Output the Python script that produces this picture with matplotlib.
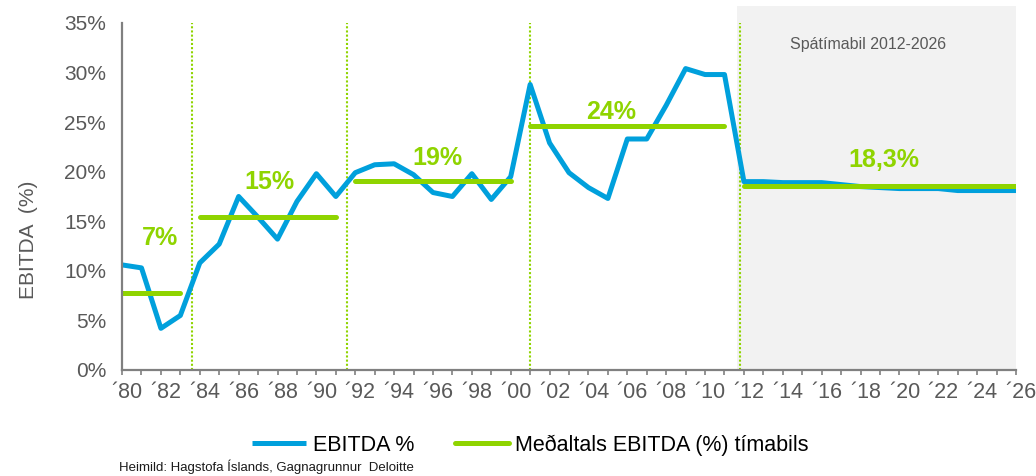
import matplotlib
matplotlib.use("Agg")
import matplotlib.pyplot as plt
from matplotlib import font_manager
from matplotlib.patches import Rectangle
import matplotlib.transforms as mtransforms

# ---------------- data ----------------
years = list(range(1980, 2027))
ebitda = [10.6, 10.3, 4.2, 5.5, 10.8, 12.7, 17.5, 15.4, 13.2, 17.0,
          19.8, 17.5, 19.9, 20.7, 20.8, 19.7, 17.9, 17.5, 19.8, 17.2,
          19.5, 28.8, 22.9, 19.9, 18.4, 17.3, 23.3, 23.3, 26.7, 30.4,
          29.8, 29.8, 19.0, 19.0, 18.9, 18.9, 18.9, 18.7, 18.5, 18.4,
          18.3, 18.3, 18.3, 18.1, 18.1, 18.1, 18.1]
period_start = [1980, 1984, 1992, 2001, 2012]
period_end = [1983, 1991, 2000, 2011, 2026]
period_avg = [7.75, 15.4, 19.1, 24.6, 18.55]
period_labels = ["7%", "15%", "19%", "24%", "18,3%"]
period_dividers = [1983.6, 1991.55, 2001.0, 2011.8]
forecast_start, forecast_end = 2011.63, 2026.0
forecast_label = "Spátímabil 2012-2026"
yticks = [0, 5, 10, 15, 20, 25, 30, 35]
ytick_labels = [f"{v}%" for v in yticks]
xtick_labels = ["\u00b4" + str(y)[2:] if y % 2 == 0 else "" for y in years]
series_name = "EBITDA %"
avg_name = "Meðaltals EBITDA (%) tímabils"
ylabel = "EBITDA  (%)"
source = "Heimild: Hagstofa Íslands, Gagnagrunnur  Deloitte"

# label placement (layout)
label_pos = [(1981.93, 13.3), (1987.57, 18.95), (1996.24, 21.4), (2005.17, 26.0), (2019.18, 21.2)]

# ---------------- style ----------------
BLUE = "#00A0DC"
GREEN = "#8FD400"
GREY_TXT = "#595959"
AXIS = "#808080"

names = {f.name for f in font_manager.fontManager.ttflist}
base = "Liberation Sans" if "Liberation Sans" in names else "DejaVu Sans"
narrow = "Liberation Sans Narrow" if "Liberation Sans Narrow" in names else base
plt.rcParams["font.family"] = [base, "DejaVu Sans"]

fig = plt.figure(figsize=(10.36, 4.76), dpi=100)
ax = fig.add_axes([0.1178, 0.2227, 0.9807 - 0.1178, 0.9517 - 0.2227])

# forecast shaded region (extends a little above the axes)
ax.add_patch(Rectangle((forecast_start, 0), forecast_end - forecast_start, 36.7,
                       facecolor="#F2F2F2", edgecolor="none", zorder=0, clip_on=False))
ax.text((forecast_start + forecast_end) / 2 - 0.45, 32.85, forecast_label,
        ha="center", va="center", fontsize=11.5, color=GREY_TXT)

# period dividers
ax.vlines(period_dividers, 0, 35, colors=GREEN, linestyles=(0, (1, 1)), linewidth=1.5, zorder=1)

# main series
ax.plot(years, ebitda, color=BLUE, linewidth=3.6, solid_joinstyle="round",
        solid_capstyle="butt", label=series_name, zorder=3)

# period averages
for i, (s, e, v) in enumerate(zip(period_start, period_end, period_avg)):
    ax.plot([s, e], [v, v], color=GREEN, linewidth=3.6, solid_capstyle="round",
            label=avg_name if i == 0 else None, zorder=4)
for (x, y), t in zip(label_pos, period_labels):
    ax.text(x, y, t, ha="center", va="center", fontsize=18, fontweight="bold",
            color=GREEN, zorder=5)

# axes
ax.set_xlim(1980, 2026)
ax.set_ylim(0, 35)
ax.set_xticks(years)
ax.set_xticklabels(xtick_labels, fontsize=15.5, color=GREY_TXT, family=[narrow, base])
ax.set_yticks(yticks)
ax.set_yticklabels(ytick_labels, fontsize=15, color=GREY_TXT)
ax.tick_params(axis="x", length=3.6, width=1.2, color=AXIS, pad=5, direction="out")
ax.tick_params(axis="y", length=0, pad=11.5)
offset = mtransforms.ScaledTranslation(5 / 100, 0, fig.dpi_scale_trans)
for lbl in ax.get_xticklabels():
    lbl.set_transform(lbl.get_transform() + offset)

for side in ["top", "right"]:
    ax.spines[side].set_visible(False)
for side in ["left", "bottom"]:
    ax.spines[side].set_color(AXIS)
    ax.spines[side].set_linewidth(1.6)
    ax.spines[side].set_zorder(6)

ax.set_ylabel(ylabel, fontsize=15, color=GREY_TXT)
ax.yaxis.set_label_coords(-0.105, 0.374)
ax.yaxis.label.set_va("center")

fig.legend(loc="center", bbox_to_anchor=(0.512, 0.065), ncol=2, frameon=False,
           fontsize=15.5, handlelength=2.5, handletextpad=0.3, columnspacing=1.9)
fig.text(0.115, 0.019, source, fontsize=9.5, color="#1a1a1a", ha="left", va="center")

fig.savefig("out.png", dpi=100)
